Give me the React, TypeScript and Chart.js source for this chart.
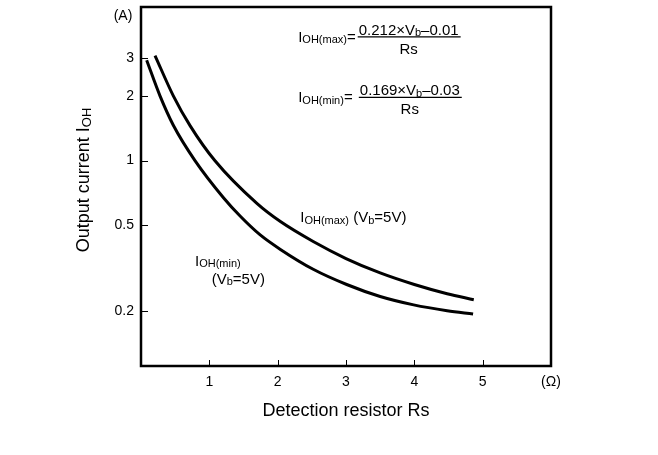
import React, { useEffect, useRef } from 'react';
import { Chart, registerables } from 'chart.js';

Chart.register(...registerables);

// Detection resistor Rs (Ω) and output current IOH (A)
const rsMax = [0.205, 0.473, 0.72, 1.08, 1.7, 2.04, 2.52, 3.0, 3.5, 4.0, 4.48, 4.87];
const iohMax = [3.08, 2.0, 1.45, 1.0, 0.63, 0.52, 0.42, 0.35, 0.3, 0.265, 0.24, 0.225];
const rsMin = [0.083, 0.278, 0.473, 0.79, 1.21, 1.45, 1.74, 2.04, 2.52, 3.01, 3.5, 3.99, 4.48, 4.86];
const iohMin = [2.93, 2.0, 1.46, 1.0, 0.67, 0.552, 0.452, 0.386, 0.312, 0.265, 0.233, 0.213, 0.2, 0.193];

const xTicks = [1, 2, 3, 4, 5, 6];
const xTickLabels = ['1', '2', '3', '4', '5', '(Ω)'];
const yTicks = [0.2, 0.5, 1, 2, 3];
const yTickLabels = ['0.2', '0.5', '1', '2', '3'];

const FONT = '"Liberation Sans", Arial, Helvetica, sans-serif';

type Seg = { t: string; sub?: boolean };

function segFont(size: number, sub?: boolean) {
  return `${sub ? Math.round(size * 0.73) : size}px ${FONT}`;
}

function richWidth(ctx: CanvasRenderingContext2D, segs: Seg[], size: number) {
  let w = 0;
  for (const s of segs) {
    ctx.font = segFont(size, s.sub);
    w += ctx.measureText(s.t).width;
  }
  return w;
}

function drawRich(
  ctx: CanvasRenderingContext2D,
  segs: Seg[],
  x: number,
  yMid: number,
  size: number,
  align: 'left' | 'center' = 'left'
) {
  const w = richWidth(ctx, segs, size);
  let cx = align === 'center' ? x - w / 2 : x;
  const base = yMid + size * 0.36;
  ctx.textAlign = 'left';
  ctx.textBaseline = 'alphabetic';
  for (const s of segs) {
    ctx.font = segFont(size, s.sub);
    ctx.fillText(s.t, cx, base + (s.sub ? size * 0.1 : 0));
    cx += ctx.measureText(s.t).width;
  }
  return w;
}

const labelMaxEq: Seg[] = [{ t: 'I' }, { t: 'OH(max)', sub: true }, { t: '=' }];
const numMax: Seg[] = [{ t: '0.212×V' }, { t: 'b', sub: true }, { t: '–0.01' }];
const labelMinEq: Seg[] = [{ t: 'I' }, { t: 'OH(min)', sub: true }, { t: '= ' }];
const numMin: Seg[] = [{ t: '0.169×V' }, { t: 'b', sub: true }, { t: '–0.03' }];
const denom: Seg[] = [{ t: 'Rs' }];

const curveLabels: { rs: number; i: number; segs: Seg[] }[] = [
  { rs: 2.33, i: 0.548, segs: [{ t: 'I' }, { t: 'OH(max)', sub: true }, { t: ' (V' }, { t: 'b', sub: true }, { t: '=5V)' }] },
  { rs: 0.79, i: 0.344, segs: [{ t: 'I' }, { t: 'OH(min)', sub: true }] },
  { rs: 1.035, i: 0.283, segs: [{ t: '(V' }, { t: 'b', sub: true }, { t: '=5V)' }] },
];

const equations = [
  { rs: 2.3, i: 3.78, label: labelMaxEq, num: numMax },
  { rs: 2.3, i: 1.98, label: labelMinEq, num: numMin },
];

const decor = {
  id: 'decor',
  afterDraw(chart: any) {
    const { ctx, chartArea: a, scales } = chart;
    const x = scales.x;
    const y = scales.y;
    ctx.save();
    ctx.fillStyle = '#000';
    ctx.strokeStyle = '#000';

    // frame
    ctx.lineWidth = 2.5;
    ctx.strokeRect(a.left, a.top, a.right - a.left, a.bottom - a.top);

    // inward tick marks
    ctx.lineWidth = 1;
    xTicks.forEach((v) => {
      if (v >= 6) return;
      const px = Math.round(x.getPixelForValue(v)) + 0.5;
      ctx.beginPath();
      ctx.moveTo(px, a.bottom);
      ctx.lineTo(px, a.bottom - 6);
      ctx.stroke();
    });
    yTicks.forEach((v) => {
      const py = Math.round(y.getPixelForValue(v)) + 0.5;
      ctx.beginPath();
      ctx.moveTo(a.left, py);
      ctx.lineTo(a.left + 7, py);
      ctx.stroke();
    });

    // unit label (A)
    ctx.font = `14px ${FONT}`;
    ctx.textAlign = 'center';
    ctx.textBaseline = 'middle';
    ctx.fillText('(A)', a.left - 18, a.top + 9);

    // equations
    equations.forEach((e) => {
      const lx = x.getPixelForValue(e.rs);
      const ly = y.getPixelForValue(e.i);
      const lw = drawRich(ctx, e.label, lx, ly, 15);
      const nw = richWidth(ctx, e.num, 15);
      const fx = lx + lw + 3;
      drawRich(ctx, e.num, fx, ly - 7, 15);
      ctx.lineWidth = 1.2;
      ctx.beginPath();
      ctx.moveTo(fx - 1, ly + 0.5);
      ctx.lineTo(fx + nw + 2, ly + 0.5);
      ctx.stroke();
      drawRich(ctx, denom, fx + nw / 2, ly + 12, 15, 'center');
    });

    // curve labels
    curveLabels.forEach((c) => {
      drawRich(ctx, c.segs, x.getPixelForValue(c.rs), y.getPixelForValue(c.i), 15);
    });

    // axis titles
    ctx.font = `18px ${FONT}`;
    ctx.textAlign = 'center';
    ctx.textBaseline = 'middle';
    ctx.fillText('Detection resistor Rs', (a.left + a.right) / 2, 411);

    ctx.save();
    ctx.translate(83, 180);
    ctx.rotate(-Math.PI / 2);
    drawRich(ctx, [{ t: 'Output current I' }, { t: 'OH', sub: true }], 0, 0, 18, 'center');
    ctx.restore();

    ctx.restore();
  },
};

export default function App() {
  const ref = useRef<HTMLCanvasElement | null>(null);

  useEffect(() => {
    if (!ref.current) return;
    const chart = new Chart(ref.current, {
      type: 'line',
      data: {
        datasets: [
          {
            label: 'IOH(max)',
            data: rsMax.map((r, i) => ({ x: r, y: iohMax[i] })),
            borderColor: '#000',
            borderWidth: 3,
            pointRadius: 0,
            cubicInterpolationMode: 'monotone',
            fill: false,
          },
          {
            label: 'IOH(min)',
            data: rsMin.map((r, i) => ({ x: r, y: iohMin[i] })),
            borderColor: '#000',
            borderWidth: 3,
            pointRadius: 0,
            cubicInterpolationMode: 'monotone',
            fill: false,
          },
        ],
      },
      options: {
        responsive: false,
        animation: false,
        events: [],
        layout: { padding: { top: 7, right: 107, left: 0, bottom: 0 } },
        plugins: { legend: { display: false }, tooltip: { enabled: false } },
        scales: {
          x: {
            type: 'linear',
            min: 0,
            max: 6,
            grid: { display: false, drawTicks: false },
            border: { display: false },
            afterBuildTicks: (s: any) => {
              s.ticks = xTicks.map((v) => ({ value: v }));
            },
            afterFit: (s: any) => {
              s.height = 89;
              s.paddingLeft = 0;
              s.paddingRight = 0;
            },
            ticks: {
              padding: 8,
              color: '#000',
              font: { family: FONT, size: 14 },
              maxRotation: 0,
              autoSkip: false,
              callback: (v: any) => {
                const k = xTicks.indexOf(Number(v));
                return k >= 0 ? xTickLabels[k] : '';
              },
            },
          },
          y: {
            type: 'logarithmic',
            min: 0.1107,
            max: 5.18,
            grid: { display: false, drawTicks: false },
            border: { display: false },
            afterBuildTicks: (s: any) => {
              s.ticks = yTicks.map((v) => ({ value: v }));
            },
            afterFit: (s: any) => {
              s.width = 141;
              s.paddingTop = 0;
              s.paddingBottom = 0;
            },
            ticks: {
              padding: 7,
              color: '#000',
              font: { family: FONT, size: 14 },
              autoSkip: false,
              callback: (v: any) => {
                const k = yTicks.findIndex((t) => Math.abs(t - Number(v)) < 1e-9);
                return k >= 0 ? yTickLabels[k] : '';
              },
            },
          },
        },
      } as any,
      plugins: [decor],
    });
    return () => chart.destroy();
  }, []);

  return (
    <div style={{ position: 'absolute', left: 0, top: 0, width: 658, height: 455, background: '#fff' }}>
      <canvas ref={ref} width={658} height={455} style={{ display: 'block' }} />
    </div>
  );
}
